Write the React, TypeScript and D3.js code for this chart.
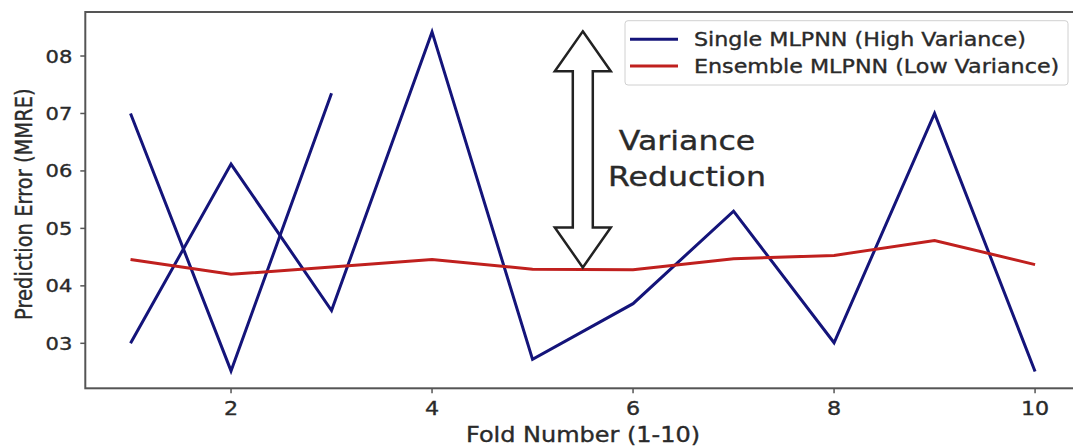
import React from 'react';
import * as d3 from 'd3';

// fold numbers and values
const folds = [1, 2, 3, 4, 5, 6, 7, 8, 9, 10];
const singleErr = [0.30, 0.612, 0.357, 0.842, 0.272, 0.369, 0.530, 0.301, 0.700, 0.251];
const singleErrExtraFolds = [1, 2, 3];
const singleErrExtra = [0.70, 0.252, 0.735];
const ensembleErr = [0.446, 0.420, 0.433, 0.446, 0.429, 0.428, 0.447, 0.453, 0.479, 0.437];

const xTicks = [2, 4, 6, 8, 10];
const yTicks = [0.3, 0.4, 0.5, 0.6, 0.7, 0.8];
const yTickLabels = ['03', '04', '05', '06', '07', '08'];

const seriesNames = ['Single MLPNN (High Variance)', 'Ensemble MLPNN (Low Variance)'];
const seriesColors = ['#14147a', '#c0201e'];

// double arrow annotation (data coords)
const arrowFold = 5.5;
const arrowTop = 0.843;
const arrowBottom = 0.432;

const W = 1073;
const H = 446;
const font = 'DejaVu Sans, sans-serif';
const textColor = '#2a2a2a';
// the source picture is stretched sideways, so the text is too
const SX = 1.17;

function WideText({ x, y, size, anchor = 'start', children }: any) {
  return (
    <text transform={`translate(${x},${y}) scale(${SX},1)`} textAnchor={anchor} fontSize={size}
      fill={textColor} stroke={textColor} strokeWidth={0.35}>
      {children}
    </text>
  );
}

export default function App() {
  const x = d3.scaleLinear().domain([0.55, 10.45]).range([85.3, 1080.3]);
  const y = d3.scaleLinear().domain([0.2217, 0.8766]).range([388.3, 12]);

  const line = d3.line<[number, number]>()
    .x(d => x(d[0]))
    .y(d => y(d[1]));

  const singlePath = line(folds.map((f, i) => [f, singleErr[i]]));
  const extraPath = line(singleErrExtraFolds.map((f, i) => [f, singleErrExtra[i]]));
  const ensPath = line(folds.map((f, i) => [f, ensembleErr[i]]));

  // arrow outline
  const ax = x(arrowFold);
  const at = y(arrowTop);
  const ab = y(arrowBottom);
  const headL = 40, headW = 28, shaftW = 10;
  const arrowPath = [
    `M${ax},${at}`,
    `L${ax + headW},${at + headL}`,
    `L${ax + shaftW},${at + headL}`,
    `L${ax + shaftW},${ab - headL}`,
    `L${ax + headW},${ab - headL}`,
    `L${ax},${ab}`,
    `L${ax - headW},${ab - headL}`,
    `L${ax - shaftW},${ab - headL}`,
    `L${ax - shaftW},${at + headL}`,
    `L${ax - headW},${at + headL}`,
    'Z',
  ].join(' ');

  const [x0, x1] = x.range();
  const [y0, y1] = y.range();

  return (
    <svg width={W} height={H} style={{ position: 'absolute', left: 0, top: 0, background: '#fff' }}
      fontFamily={font}>
      <defs>
        <clipPath id="plot">
          <rect x={x0} y={y1} width={x1 - x0} height={y0 - y1} />
        </clipPath>
      </defs>

      <g clipPath="url(#plot)" fill="none" strokeWidth={3} strokeLinejoin="miter">
        <path d={singlePath || ''} stroke={seriesColors[0]} />
        <path d={extraPath || ''} stroke={seriesColors[0]} />
        <path d={ensPath || ''} stroke={seriesColors[1]} />
      </g>

      <path d={arrowPath} fill="#fff" stroke="#222" strokeWidth={2.5} strokeLinejoin="miter" />

      <WideText x={687} y={150} size={27} anchor="middle">Variance</WideText>
      <WideText x={687} y={186} size={27} anchor="middle">Reduction</WideText>

      {/* frame */}
      <rect x={x0} y={y1} width={x1 - x0} height={y0 - y1} fill="none" stroke="#555" strokeWidth={2} />

      {/* y axis */}
      {yTicks.map((t, i) => (
        <g key={t}>
          <line x1={x0 - 5} x2={x0} y1={y(t)} y2={y(t)} stroke="#555" strokeWidth={1.5} />
          <WideText x={x0 - 13} y={y(t) + 6.5} size={18} anchor="end">{yTickLabels[i]}</WideText>
        </g>
      ))}
      <text transform={`translate(24,${(y0 + y1) / 2 + 4}) rotate(-90) scale(1,${SX})`} textAnchor="middle" dy="0.35em"
        fontSize={19.5} fill={textColor} stroke={textColor} strokeWidth={0.35}>Prediction Error (MMRE)</text>

      {/* x axis */}
      {xTicks.map(t => (
        <g key={t}>
          <line x1={x(t)} x2={x(t)} y1={y0} y2={y0 + 5} stroke="#555" strokeWidth={1.5} />
          <WideText x={x(t)} y={y0 + 27} size={19} anchor="middle">{t}</WideText>
        </g>
      ))}
      <WideText x={583} y={442} size={20.5} anchor="middle">Fold Number (1-10)</WideText>

      {/* legend */}
      <rect x={625} y={20.7} width={443} height={64.3} rx={3} fill="#fff" fillOpacity={0.85} stroke="#d0d0d0" strokeWidth={1} />
      {seriesNames.map((n, i) => (
        <g key={n}>
          <line x1={630} x2={678} y1={39.3 + i * 26.7} y2={39.3 + i * 26.7} stroke={seriesColors[i]} strokeWidth={3} />
          <WideText x={694} y={39.3 + i * 26.7 + 7} size={19}>{n}</WideText>
        </g>
      ))}
    </svg>
  );
}
